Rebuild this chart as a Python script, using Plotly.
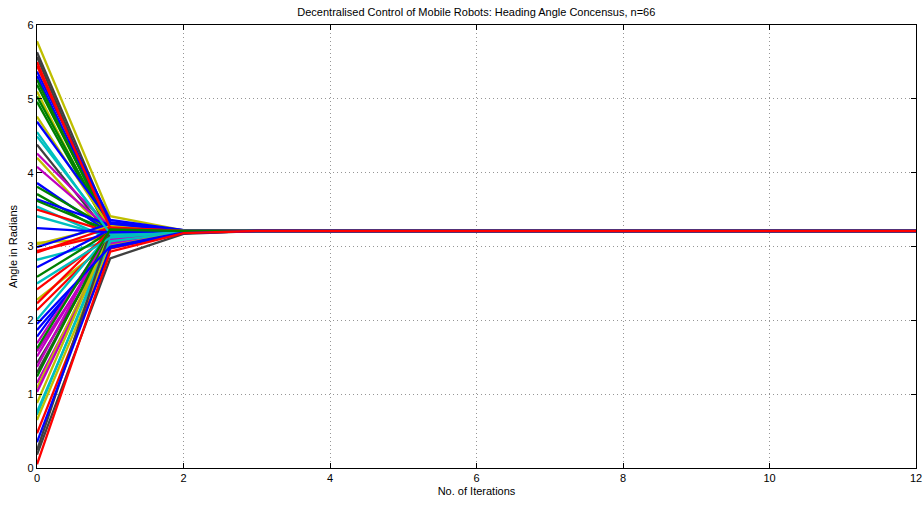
import plotly.graph_objects as go

iterations = list(range(13))

start_angles = [5.78, 5.63, 5.57, 5.50, 5.37, 5.31, 5.26, 5.19, 5.10, 5.03, 4.96,
                4.76, 4.69, 4.49, 4.38, 4.26, 4.20, 4.08, 3.86, 3.81, 3.71, 3.64,
                3.62, 3.54, 3.50, 3.41, 3.03, 3.05, 2.99, 2.94, 2.92, 2.82, 2.72,
                2.59, 2.42, 2.28, 2.23, 2.14, 2.01, 1.87, 1.78, 1.69, 1.58, 1.51,
                1.42, 1.37, 1.29, 1.24, 1.15, 1.08, 1.03, 0.88, 0.76, 0.72, 0.65,
                0.47, 0.24, 0.18, 5.45, 4.55, 3.25, 2.50, 1.95, 1.62, 0.35, 0.05]
iter1_angles = [3.41, 3.30, 3.22, 3.18, 3.36, 3.27, 3.20, 3.24, 3.16, 3.22, 3.19,
                3.25, 3.33, 3.21, 3.14, 3.26, 3.12, 3.23, 3.18, 3.24, 3.15, 3.29,
                3.21, 3.10, 3.19, 3.13, 3.28, 3.11, 3.31, 3.17, 3.26, 3.08, 3.23,
                3.20, 3.16, 3.06, 3.21, 3.12, 3.18, 3.02, 3.14, 3.20, 3.09, 3.17,
                3.05, 3.22, 3.13, 3.19, 3.04, 3.15, 3.10, 3.18, 3.07, 3.14, 3.01,
                2.97, 3.20, 2.84, 3.25, 3.17, 3.19, 3.12, 3.00, 3.23, 2.98, 2.93]
iter2_angles = [3.22, 3.21, 3.21, 3.21, 3.22, 3.21, 3.21, 3.21, 3.20, 3.21, 3.21,
                3.21, 3.22, 3.21, 3.20, 3.21, 3.20, 3.21, 3.21, 3.21, 3.20, 3.21,
                3.21, 3.20, 3.21, 3.20, 3.21, 3.20, 3.21, 3.21, 3.21, 3.20, 3.21,
                3.21, 3.20, 3.20, 3.21, 3.20, 3.21, 3.19, 3.20, 3.21, 3.20, 3.21,
                3.19, 3.21, 3.20, 3.21, 3.19, 3.20, 3.20, 3.21, 3.19, 3.20, 3.19,
                3.18, 3.21, 3.17, 3.21, 3.21, 3.21, 3.20, 3.19, 3.21, 3.18, 3.18]
consensus_angle = 3.21

line_colors = ['y', 'k', 'k', 'r', 'b', 'b', 'g', 'g', 'y', 'g', 'g',
               'y', 'b', 'c', 'k', 'm', 'y', 'm', 'b', 'g', 'g', 'b',
               'g', 'c', 'r', 'c', 'y', 'y', 'b', 'r', 'r', 'c', 'b',
               'g', 'r', 'y', 'r', 'r', 'c', 'b', 'b', 'm', 'm', 'm',
               'k', 'm', 'k', 'g', 'm', 'y', 'm', 'y', 'c', 'c', 'y',
               'r', 'k', 'k', 'r', 'c', 'b', 'c', 'b', 'g', 'b', 'r']
palette = {'b': 'rgb(0,0,255)', 'g': 'rgb(0,128,0)', 'r': 'rgb(255,0,0)',
           'c': 'rgb(0,191,191)', 'm': 'rgb(191,0,191)', 'y': 'rgb(191,191,0)',
           'k': 'rgb(64,64,64)'}

fig = go.Figure()
for i in range(len(start_angles)):
    ys = [start_angles[i], iter1_angles[i], iter2_angles[i]] + [consensus_angle] * (len(iterations) - 3)
    fig.add_trace(go.Scatter(x=iterations, y=ys, mode='lines',
                             line=dict(color=palette[line_colors[i]], width=2.3),
                             showlegend=False, hoverinfo='skip'))

axis_common = dict(showline=True, linecolor='black', linewidth=1.3, mirror='ticks',
                   ticks='inside', ticklen=5, tickcolor='black', tickwidth=1,
                   showgrid=True, gridcolor='rgb(150,150,150)', griddash='1px,3px', gridwidth=1,
                   zeroline=False, automargin=False, tickfont=dict(size=11, color='black'))

fig.update_layout(
    width=924, height=505,
    margin=dict(l=37, r=8, t=25, b=37),
    paper_bgcolor='white', plot_bgcolor='white',
    font=dict(family='Liberation Sans, Arial, sans-serif', size=11, color='black'),
    title=dict(text='Decentralised Control of Mobile Robots: Heading Angle Concensus, n=66',
               x=0.5155, xanchor='center', y=0.976, yanchor='middle', font=dict(size=11)),
    xaxis=dict(range=[0, 12], tickvals=[0, 2, 4, 6, 8, 10, 12],
               title=dict(text='No. of Iterations', standoff=3, font=dict(size=11)), **axis_common),
    yaxis=dict(range=[0, 6], tickvals=[0, 1, 2, 3, 4, 5, 6],
               title=dict(text='Angle in Radians', standoff=7, font=dict(size=11)), **axis_common),
)

fig.write_html("out.html", config={'displayModeBar': False},
               post_script="document.body.style.margin='0';")
